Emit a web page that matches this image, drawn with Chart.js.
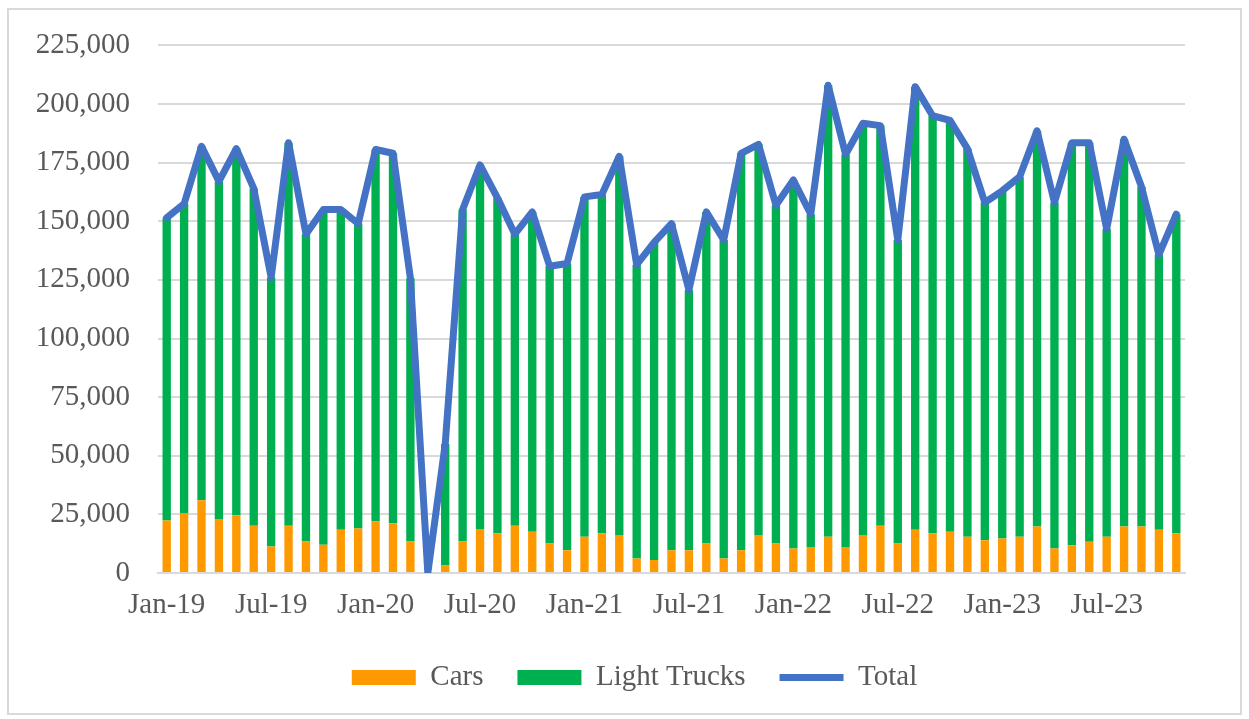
<!DOCTYPE html>
<html>
<head>
<meta charset="utf-8">
<script src="https://cdn.jsdelivr.net/npm/chart.js@4.4.1/dist/chart.umd.min.js"></script>
<style>
    html, body { margin: 0; padding: 0; background: #ffffff; }
    #wrap { position: relative; width: 1249px; height: 719px; }
    #frame {
        position: absolute; left: 7px; top: 8px; right: 7px; bottom: 4px;
        border: 2px solid #d9d9d9; pointer-events: none;
    }
</style>
</head>
<body>
<div id="wrap">
    <canvas id="salesChart" width="1249" height="719"></canvas>
    <div id="frame"></div>
</div>
<script>
// Months Jan-19 .. Nov-23
const monthNames = ['Jan', 'Feb', 'Mar', 'Apr', 'May', 'Jun', 'Jul', 'Aug', 'Sep', 'Oct', 'Nov', 'Dec'];
const years = ['19', '20', '21', '22', '23'];
const categories = [];
years.forEach(y => monthNames.forEach(m => categories.push(`${m}-${y}`)));
categories.length = 59;

const cars = [
    22400, 25600, 31000, 23000, 24600, 20200, 11300, 20200, 13400, 12000, 18400, 19000,
    22000, 21200, 13400, 0, 3200, 13400, 18800, 16900, 20200, 17600, 12600, 9700,
    15500, 16900, 16200, 6200, 5500, 9700, 9700, 12600, 6200, 9700, 16200, 12600,
    10400, 11100, 15500, 11100, 16200, 20200, 12600, 18400, 16900, 17600, 15500, 14000,
    14700, 15500, 19800, 10400, 11800, 13300, 15500, 19800, 19800, 18400, 16900
];

const lightTrucks = [
    129100, 131900, 151000, 144000, 156400, 143800, 114700, 163300, 131100, 143000, 136600, 130000,
    158600, 157800, 112300, 0, 51800, 141600, 155200, 143100, 124300, 136400, 118200, 122300,
    144900, 144500, 161500, 125300, 135500, 139300, 111000, 141400, 135800, 169300, 166600, 144200,
    157200, 141900, 192500, 167400, 175600, 170600, 129400, 189000, 178100, 175400, 165500, 144000,
    148300, 153500, 168800, 147600, 171700, 170200, 131200, 165200, 144900, 117400, 136100
];

const total = [
    151500, 157500, 182000, 167000, 181000, 164000, 126000, 183500, 144500, 155000, 155000, 149000,
    180600, 179000, 125700, 0, 55000, 155000, 174000, 160000, 144500, 154000, 130800, 132000,
    160400, 161400, 177700, 131500, 141000, 149000, 120700, 154000, 142000, 179000, 182800, 156800,
    167600, 153000, 208000, 178500, 191800, 190800, 142000, 207400, 195000, 193000, 181000, 158000,
    163000, 169000, 188600, 158000, 183500, 183500, 146700, 185000, 164700, 135800, 153000
];

const yTicks = [0, 25000, 50000, 75000, 100000, 125000, 150000, 175000, 200000, 225000];

const serif = "'Liberation Serif', 'Times New Roman', serif";
const textColor = '#595959';
const gridColor = '#d9d9d9';

const ctx = document.getElementById('salesChart');
new Chart(ctx, {
    data: {
        labels: categories,
        datasets: [
            {
                type: 'line',
                label: 'Total',
                data: total,
                borderColor: '#4472c4',
                backgroundColor: '#4472c4',
                borderWidth: 7,
                borderJoinStyle: 'round',
                borderCapStyle: 'round',
                tension: 0,
                pointRadius: 0,
                pointStyle: 'line',
                stack: 'total',
                order: -1
            },
            {
                type: 'bar',
                label: 'Cars',
                data: cars,
                backgroundColor: '#ff9900',
                pointStyle: 'rect',
                stack: 'vehicles',
                barPercentage: 1,
                categoryPercentage: 0.48,
                order: 0
            },
            {
                type: 'bar',
                label: 'Light Trucks',
                data: lightTrucks,
                backgroundColor: '#00b050',
                pointStyle: 'rect',
                stack: 'vehicles',
                barPercentage: 1,
                categoryPercentage: 0.48,
                order: 0
            }
        ]
    },
    options: {
        responsive: false,
        animation: false,
        layout: { padding: { left: 20, right: 0, top: 38, bottom: 17 } },
        plugins: {
            tooltip: { enabled: false },
            legend: {
                position: 'bottom',
                labels: {
                    usePointStyle: true,
                    pointStyleWidth: 64,
                    boxHeight: 15,
                    padding: 34,
                    color: textColor,
                    font: { family: serif, size: 29 },
                    sort: (a, b) => {
                        const rank = { 'Cars': 0, 'Light Trucks': 1, 'Total': 2 };
                        return rank[a.text] - rank[b.text];
                    }
                }
            }
        },
        scales: {
            x: {
                stacked: true,
                grid: { display: false },
                border: { display: true, color: gridColor, width: 2 },
                afterFit: axis => { axis.height = 56; },
                ticks: {
                    autoSkip: false,
                    maxRotation: 0,
                    padding: 7,
                    color: textColor,
                    font: { family: serif, size: 29 },
                    callback: (val, i) => (i % 6 === 0 ? categories[i] : '')
                }
            },
            y: {
                stacked: true,
                min: 0,
                max: 225000,
                afterBuildTicks: axis => { axis.ticks = yTicks.map(v => ({ value: v })); },
                afterFit: axis => { axis.width = 138; },
                grid: { color: gridColor, lineWidth: 2, drawTicks: false },
                border: { display: false },
                ticks: {
                    padding: 28,
                    color: textColor,
                    font: { family: serif, size: 29 },
                    callback: v => v.toLocaleString('en-US')
                }
            },
            yRight: {
                position: 'right',
                grid: { display: false },
                border: { display: false },
                ticks: { display: false },
                afterFit: axis => { axis.width = 64; }
            }
        }
    }
});
</script>
</body>
</html>
